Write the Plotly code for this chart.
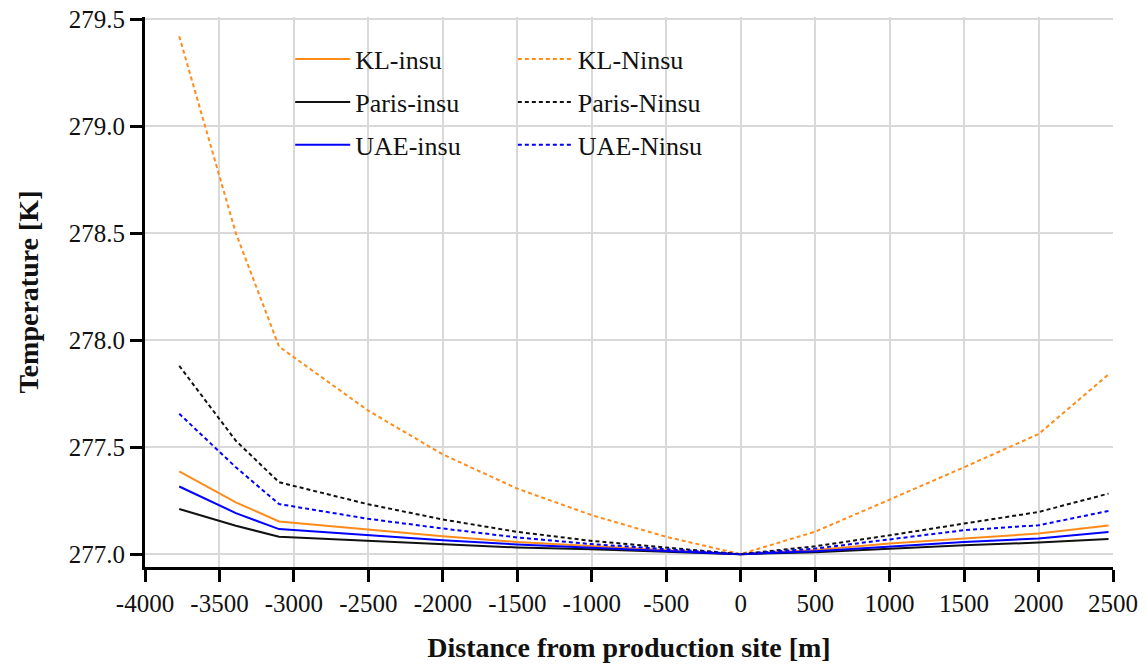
import plotly.graph_objects as go

# Distance from the production site [m]
distance = [-3770, -3390, -3100, -2500, -2000, -1500, -1000, -500, 0, 500, 1000, 1500, 2000, 2470]

# Temperature [K] along the line, insulated pipes
kl_insu = [277.387, 277.242, 277.153, 277.115, 277.084, 277.057, 277.039, 277.019, 277.0,
           277.019, 277.050, 277.073, 277.096, 277.134]
paris_insu = [277.211, 277.133, 277.081, 277.062, 277.047, 277.031, 277.023, 277.011, 277.0,
              277.009, 277.026, 277.042, 277.054, 277.071]
uae_insu = [277.316, 277.192, 277.117, 277.088, 277.065, 277.045, 277.031, 277.015, 277.0,
            277.014, 277.037, 277.057, 277.073, 277.104]

# Temperature [K] along the line, non-insulated pipes
kl_ninsu = [279.42, 278.50, 277.97, 277.67, 277.466, 277.306, 277.182, 277.081, 277.0,
            277.105, 277.255, 277.406, 277.561, 277.84]
paris_ninsu = [277.88, 277.53, 277.336, 277.233, 277.162, 277.104, 277.062, 277.030, 277.0,
               277.037, 277.088, 277.143, 277.197, 277.283]
uae_ninsu = [277.656, 277.406, 277.234, 277.165, 277.120, 277.078, 277.047, 277.022, 277.0,
             277.026, 277.070, 277.112, 277.135, 277.202]

x_ticks = list(range(-4000, 2501, 500))
x_tick_labels = [str(v) for v in x_ticks]  # plain hyphen for negatives
y_ticks = [277.0, 277.5, 278.0, 278.5, 279.0, 279.5]

ORANGE = "#ff8c1a"
BLACK = "#111111"
BLUE = "#0000ff"
FONT = "Liberation Serif, Times New Roman, serif"
DASH = "4px,3px"

series = [
    ("KL-insu", kl_insu, ORANGE, "solid", "legend"),
    ("Paris-insu", paris_insu, BLACK, "solid", "legend"),
    ("UAE-insu", uae_insu, BLUE, "solid", "legend"),
    ("KL-Ninsu", kl_ninsu, ORANGE, DASH, "legend2"),
    ("Paris-Ninsu", paris_ninsu, BLACK, DASH, "legend2"),
    ("UAE-Ninsu", uae_ninsu, BLUE, DASH, "legend2"),
]

fig = go.Figure()
for name, values, color, dash, leg in series:
    fig.add_trace(go.Scatter(
        x=distance, y=values, name=name, mode="lines",
        line=dict(color=color, width=2, dash=dash),
        legend=leg, legendgroup=name,
    ))

legend_style = dict(
    font=dict(family=FONT, size=26, color="#111111"),
    bgcolor="rgba(0,0,0,0)", borderwidth=0,
    yanchor="top", xanchor="left", tracegroupgap=6, itemwidth=55,
)

fig.update_layout(
    width=1147, height=666,
    margin=dict(l=145, r=34, t=17, b=99),
    paper_bgcolor="white", plot_bgcolor="white",
    font=dict(family=FONT, size=25, color="#111111"),
    legend=dict(x=0.150, y=0.966, **legend_style),
    legend2=dict(x=0.380, y=0.966, **legend_style),
    xaxis=dict(
        range=[-4000, 2500], tickvals=x_ticks, ticktext=x_tick_labels,
        showgrid=True, gridcolor="#d9d9d9", gridwidth=2,
        showline=True, linecolor="black", linewidth=3,
        ticks="outside", ticklen=12, tickwidth=3, tickcolor="black",
        zeroline=False, automargin=False,
        tickfont=dict(family=FONT, size=25, color="#111111"),
        title=dict(text="<b>Distance from production site [m]</b>",
                   font=dict(family=FONT, size=28, color="#111111"), standoff=22),
    ),
    yaxis=dict(
        range=[276.94, 279.51], tickvals=y_ticks, tickformat=".1f",
        showgrid=True, gridcolor="#d9d9d9", gridwidth=2,
        showline=True, linecolor="black", linewidth=3,
        ticks="outside", ticklen=12, tickwidth=3, tickcolor="black",
        zeroline=False, automargin=False,
        tickfont=dict(family=FONT, size=25, color="#111111"),
        title=dict(text="<b>Temperature [K]</b>",
                   font=dict(family=FONT, size=28, color="#111111"), standoff=22),
    ),
)

fig.write_html("out.html")
